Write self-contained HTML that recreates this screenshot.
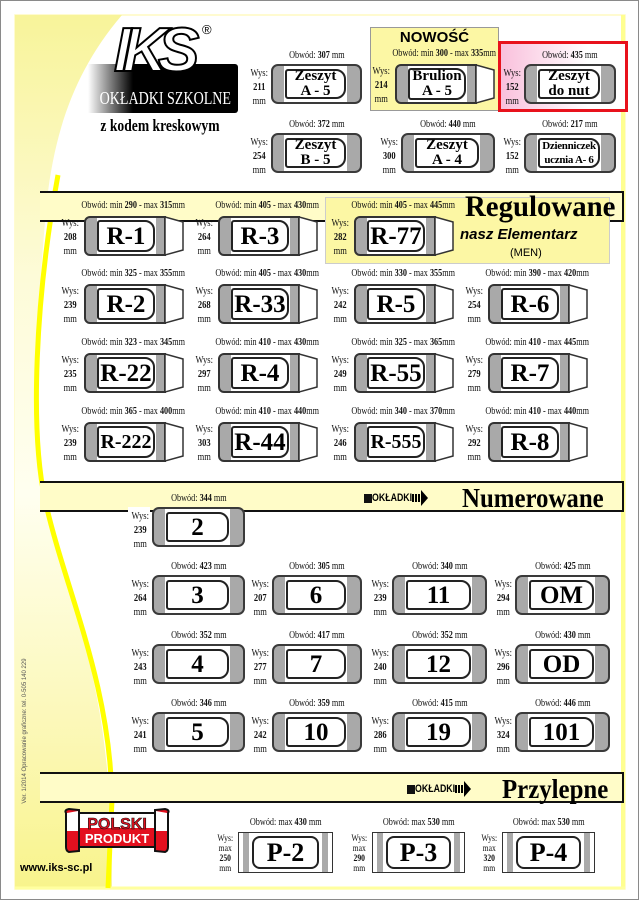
<!DOCTYPE html>
<html><head><meta charset="utf-8">
<style>
*{margin:0;padding:0;box-sizing:border-box}
body{width:640px;height:901px;position:relative;overflow:hidden;background:#fff;font-family:"Liberation Serif",serif}
.a{position:absolute}
.o{position:absolute;top:-16px;left:-40px;right:-40px;text-align:center;font:10px "Liberation Serif",serif;white-space:nowrap;color:#111}
.o span{display:inline-block;transform:scaleX(.82)}
.w{position:absolute;left:-24px;top:1px;width:20px;text-align:center;font:10px/14px "Liberation Serif",serif;color:#111}
.w span{display:inline-block;transform:scaleX(.85)}
.n{position:absolute;height:40px;border:2px solid #3a3a3a;border-radius:7px;background:linear-gradient(90deg,#a9a9a9 0 11px,#fff 11px calc(100% - 13px),#a9a9a9 calc(100% - 13px))}
.n>.l{left:12px;right:14px;top:3px;bottom:3px}
.l{position:absolute;border:2px solid #222;border-radius:3px 10px 10px 3px;background:#fff;display:flex;align-items:center;justify-content:center;text-align:center;font:bold 25px/1 "Liberation Serif",serif;color:#000;white-space:nowrap}
.l.t{font-size:15px;line-height:15px}
.r{position:absolute;width:99px;height:40px}
.rb{position:absolute;left:0;top:0;width:82px;height:40px;border:2px solid #333;border-radius:6px 0 0 6px;background:linear-gradient(90deg,#a9a9a9 0 11px,#fff 11px 70px,#a9a9a9 70px)}
.rb .l{left:11px;top:2px;width:58px;bottom:2px}
.r svg{position:absolute;left:81px;top:0}
.p{position:absolute;height:41px;border:1.5px solid #333;background:linear-gradient(90deg,#fff 0 4px,#aaa 4px 10px,#fff 10px calc(100% - 10px),#aaa calc(100% - 10px) calc(100% - 4px),#fff calc(100% - 4px))}
.p .l{left:13px;right:13px;top:3px;bottom:3px;border-radius:8px;font-size:26px}
.p .w{font-size:9px;line-height:10px;top:0}
.hb{position:absolute;left:40px;width:584px;height:31px;border-top:2px solid #111;border-bottom:2px solid #111;border-right:2px solid #111;background:#fffcc8}
.ht{position:absolute;font:bold 28px "Liberation Serif",serif;color:#000;white-space:nowrap}
.ok{position:absolute;font:bold 11px "Liberation Sans",sans-serif;white-space:nowrap;display:flex;align-items:center}
</style></head><body>

<svg class="a" style="left:0;top:0" width="640" height="901">
<defs><linearGradient id="yg" x1="0" y1="0" x2="0" y2="1">
<stop offset="0" stop-color="#f8f49a"/><stop offset=".3" stop-color="#fdfbd8"/><stop offset=".55" stop-color="#fffff0"/><stop offset=".85" stop-color="#fbf7b0"/><stop offset="1" stop-color="#f8f48c"/></linearGradient></defs>
<rect x="0.5" y="0.5" width="638" height="899" fill="#fff" stroke="#8a8a8a"/>
<rect x="15" y="15" width="610" height="874" fill="#fff" stroke="#fffac0" stroke-width="1.5"/>
<path d="M15 15 H122 C75 70 55 130 47 200 C30 380 35 480 60 560 C100 680 112 760 112 888 H15 Z" fill="url(#yg)"/>
<line x1="623" y1="15" x2="623" y2="889" stroke="#ffff90" stroke-width="4"/>
<line x1="15" y1="888" x2="625" y2="888" stroke="#ffffa0" stroke-width="3"/>
<path d="M58 175 C35 300 30 430 45 500 C65 590 110 680 112 800 L108 888" fill="none" stroke="#ffff00" stroke-width="5"/>
</svg>

<!-- logo -->
<div class="a" style="left:88px;top:64px;width:150px;height:49px;background:linear-gradient(90deg,#fff 0,#000 45px,#000);border-radius:0 3px 3px 0"></div>
<div class="a" style="left:114px;top:20px;font:italic bold 62px/1 'Liberation Sans',sans-serif;color:#fff;-webkit-text-stroke:2px #000;letter-spacing:-9px">IKS</div>
<div class="a" style="left:202px;top:22px;font:13px 'Liberation Sans',sans-serif">®</div>
<div class="a" style="left:82px;top:88px;width:160px;text-align:center;font:18px 'Liberation Serif',serif;color:#fff;transform:scaleX(.78);white-space:nowrap">OKŁADKI SZKOLNE</div>
<div class="a" style="left:80px;top:116px;width:160px;text-align:center;font:bold 17px 'Liberation Serif',serif;transform:scaleX(.8);white-space:nowrap">z kodem kreskowym</div>

<!-- top boxes -->
<div class="a" style="left:370px;top:27px;width:129px;height:84px;background:#fcf7a4;border:1px solid #999"></div>
<div class="a" style="left:370px;top:29px;width:129px;text-align:center;font:bold 15px 'Liberation Sans',sans-serif">NOWOŚĆ</div>
<div class="a" style="left:498px;top:41px;width:130px;height:71px;border:3px solid #e8121c;background:linear-gradient(90deg,#f9c0dc,#fff 70%)"></div>

<div class="n" style="left:271px;top:64px;width:91px"><div class="o"><span>Obwód: <b>307</b> mm</span></div><div class="w"><span>Wys:<br><b>211</b><br>mm</span></div><div class="l t">Zeszyt<br>A - 5</div></div>
<div class="r" style="left:395px;top:64px"><div class="o"><span>Obwód: min <b>300</b> - max <b>335</b>mm</span></div><div class="w"><span>Wys:<br><b>214</b><br>mm</span></div><div class="rb"><div class="l t">Brulion<br>A - 5</div></div><svg width="19" height="40"><polygon points="0,1 18,6 18,34 0,39" fill="#fff" stroke="#333" stroke-width="1.5"/></svg></div>
<div class="n" style="left:524px;top:64px;width:92px"><div class="o"><span>Obwód: <b>435</b> mm</span></div><div class="w"><span>Wys:<br><b>152</b><br>mm</span></div><div class="l t">Zeszyt<br>do nut</div></div>
<div class="n" style="left:271px;top:133px;width:91px"><div class="o"><span>Obwód: <b>372</b> mm</span></div><div class="w"><span>Wys:<br><b>254</b><br>mm</span></div><div class="l t">Zeszyt<br>B - 5</div></div>
<div class="n" style="left:401px;top:133px;width:94px"><div class="o"><span>Obwód: <b>440</b> mm</span></div><div class="w"><span>Wys:<br><b>300</b><br>mm</span></div><div class="l t">Zeszyt<br>A - 4</div></div>
<div class="n" style="left:524px;top:133px;width:92px"><div class="o"><span>Obwód: <b>217</b> mm</span></div><div class="w"><span>Wys:<br><b>152</b><br>mm</span></div><div class="l t" style="font-size:11px;line-height:14px;letter-spacing:-.3px">Dzienniczek<br>ucznia A- 6</div></div>

<!-- Regulowane -->
<div class="hb" style="top:191px"></div>
<div class="a" style="left:325px;top:197px;width:285px;height:67px;background:#fcf7a4;border:1px solid #ccc"></div>
<div class="ht" style="left:465px;top:190px;font-size:30px;transform:scaleX(.96);transform-origin:left">Regulowane</div>
<div class="a" style="left:460px;top:226px;font:italic bold 15px 'Liberation Sans',sans-serif;white-space:nowrap">nasz Elementarz</div>
<div class="a" style="left:510px;top:247px;font:11px 'Liberation Sans',sans-serif">(MEN)</div>

<div class="r" style="left:84px;top:216px"><div class="o"><span>Obwód: min <b>290</b> - max <b>315</b>mm</span></div><div class="w"><span>Wys:<br><b>208</b><br>mm</span></div><div class="rb"><div class="l">R-1</div></div><svg width="19" height="40"><polygon points="0,1 18,6 18,34 0,39" fill="#fff" stroke="#333" stroke-width="1.5"/></svg></div>
<div class="r" style="left:218px;top:216px"><div class="o"><span>Obwód: min <b>405</b> - max <b>430</b>mm</span></div><div class="w"><span>Wys:<br><b>264</b><br>mm</span></div><div class="rb"><div class="l">R-3</div></div><svg width="19" height="40"><polygon points="0,1 18,6 18,34 0,39" fill="#fff" stroke="#333" stroke-width="1.5"/></svg></div>
<div class="r" style="left:354px;top:216px"><div class="o"><span>Obwód: min <b>405</b> - max <b>445</b>mm</span></div><div class="w"><span>Wys:<br><b>282</b><br>mm</span></div><div class="rb"><div class="l">R-77</div></div><svg width="19" height="40"><polygon points="0,1 18,6 18,34 0,39" fill="#fff" stroke="#333" stroke-width="1.5"/></svg></div>

<div class="r" style="left:84px;top:284px"><div class="o"><span>Obwód: min <b>325</b> - max <b>355</b>mm</span></div><div class="w"><span>Wys:<br><b>239</b><br>mm</span></div><div class="rb"><div class="l">R-2</div></div><svg width="19" height="40"><polygon points="0,1 18,6 18,34 0,39" fill="#fff" stroke="#333" stroke-width="1.5"/></svg></div>
<div class="r" style="left:218px;top:284px"><div class="o"><span>Obwód: min <b>405</b> - max <b>430</b>mm</span></div><div class="w"><span>Wys:<br><b>268</b><br>mm</span></div><div class="rb"><div class="l">R-33</div></div><svg width="19" height="40"><polygon points="0,1 18,6 18,34 0,39" fill="#fff" stroke="#333" stroke-width="1.5"/></svg></div>
<div class="r" style="left:354px;top:284px"><div class="o"><span>Obwód: min <b>330</b> - max <b>355</b>mm</span></div><div class="w"><span>Wys:<br><b>242</b><br>mm</span></div><div class="rb"><div class="l">R-5</div></div><svg width="19" height="40"><polygon points="0,1 18,6 18,34 0,39" fill="#fff" stroke="#333" stroke-width="1.5"/></svg></div>
<div class="r" style="left:488px;top:284px"><div class="o"><span>Obwód: min <b>390</b> - max <b>420</b>mm</span></div><div class="w"><span>Wys:<br><b>254</b><br>mm</span></div><div class="rb"><div class="l">R-6</div></div><svg width="19" height="40"><polygon points="0,1 18,6 18,34 0,39" fill="#fff" stroke="#333" stroke-width="1.5"/></svg></div>

<div class="r" style="left:84px;top:353px"><div class="o"><span>Obwód: min <b>323</b> - max <b>345</b>mm</span></div><div class="w"><span>Wys:<br><b>235</b><br>mm</span></div><div class="rb"><div class="l">R-22</div></div><svg width="19" height="40"><polygon points="0,1 18,6 18,34 0,39" fill="#fff" stroke="#333" stroke-width="1.5"/></svg></div>
<div class="r" style="left:218px;top:353px"><div class="o"><span>Obwód: min <b>410</b> - max <b>430</b>mm</span></div><div class="w"><span>Wys:<br><b>297</b><br>mm</span></div><div class="rb"><div class="l">R-4</div></div><svg width="19" height="40"><polygon points="0,1 18,6 18,34 0,39" fill="#fff" stroke="#333" stroke-width="1.5"/></svg></div>
<div class="r" style="left:354px;top:353px"><div class="o"><span>Obwód: min <b>325</b> - max <b>365</b>mm</span></div><div class="w"><span>Wys:<br><b>249</b><br>mm</span></div><div class="rb"><div class="l">R-55</div></div><svg width="19" height="40"><polygon points="0,1 18,6 18,34 0,39" fill="#fff" stroke="#333" stroke-width="1.5"/></svg></div>
<div class="r" style="left:488px;top:353px"><div class="o"><span>Obwód: min <b>410</b> - max <b>445</b>mm</span></div><div class="w"><span>Wys:<br><b>279</b><br>mm</span></div><div class="rb"><div class="l">R-7</div></div><svg width="19" height="40"><polygon points="0,1 18,6 18,34 0,39" fill="#fff" stroke="#333" stroke-width="1.5"/></svg></div>

<div class="r" style="left:84px;top:422px"><div class="o"><span>Obwód: min <b>365</b> - max <b>400</b>mm</span></div><div class="w"><span>Wys:<br><b>239</b><br>mm</span></div><div class="rb"><div class="l" style="font-size:20px">R-222</div></div><svg width="19" height="40"><polygon points="0,1 18,6 18,34 0,39" fill="#fff" stroke="#333" stroke-width="1.5"/></svg></div>
<div class="r" style="left:218px;top:422px"><div class="o"><span>Obwód: min <b>410</b> - max <b>440</b>mm</span></div><div class="w"><span>Wys:<br><b>303</b><br>mm</span></div><div class="rb"><div class="l">R-44</div></div><svg width="19" height="40"><polygon points="0,1 18,6 18,34 0,39" fill="#fff" stroke="#333" stroke-width="1.5"/></svg></div>
<div class="r" style="left:354px;top:422px"><div class="o"><span>Obwód: min <b>340</b> - max <b>370</b>mm</span></div><div class="w"><span>Wys:<br><b>246</b><br>mm</span></div><div class="rb"><div class="l" style="font-size:20px">R-555</div></div><svg width="19" height="40"><polygon points="0,1 18,6 18,34 0,39" fill="#fff" stroke="#333" stroke-width="1.5"/></svg></div>
<div class="r" style="left:488px;top:422px"><div class="o"><span>Obwód: min <b>410</b> - max <b>440</b>mm</span></div><div class="w"><span>Wys:<br><b>292</b><br>mm</span></div><div class="rb"><div class="l">R-8</div></div><svg width="19" height="40"><polygon points="0,1 18,6 18,34 0,39" fill="#fff" stroke="#333" stroke-width="1.5"/></svg></div>

<!-- Numerowane -->
<div class="hb" style="top:481px"></div>
<div class="ok" style="left:364px;top:490px"><span style="display:inline-block;width:8px;height:9px;background:#111;margin-right:1px"></span><span style="display:inline-block;transform:scaleX(.8);margin:0 -6px">OKŁADKI</span><svg width="16" height="16" style="margin-left:1px"><rect x="0" y="4" width="2" height="8"/><rect x="3" y="4" width="2" height="8"/><rect x="6" y="4" width="2" height="8"/><polygon points="9,0 16,8 9,16"/></svg></div>
<div class="ht" style="left:462px;top:483px;font-size:27px;transform:scaleX(.92);transform-origin:left">Numerowane</div>
<div class="a" style="left:128px;top:507px;width:22px;height:40px;background:#fff"></div>

<div class="n" style="left:152px;top:507px;width:93px"><div class="o"><span>Obwód: <b>344</b> mm</span></div><div class="w"><span>Wys:<br><b>239</b><br>mm</span></div><div class="l">2</div></div>

<div class="n" style="left:152px;top:575px;width:93px"><div class="o"><span>Obwód: <b>423</b> mm</span></div><div class="w"><span>Wys:<br><b>264</b><br>mm</span></div><div class="l">3</div></div>
<div class="n" style="left:272px;top:575px;width:90px"><div class="o"><span>Obwód: <b>305</b> mm</span></div><div class="w"><span>Wys:<br><b>207</b><br>mm</span></div><div class="l">6</div></div>
<div class="n" style="left:392px;top:575px;width:95px"><div class="o"><span>Obwód: <b>340</b> mm</span></div><div class="w"><span>Wys:<br><b>239</b><br>mm</span></div><div class="l">11</div></div>
<div class="n" style="left:515px;top:575px;width:95px"><div class="o"><span>Obwód: <b>425</b> mm</span></div><div class="w"><span>Wys:<br><b>294</b><br>mm</span></div><div class="l">OM</div></div>

<div class="n" style="left:152px;top:644px;width:93px"><div class="o"><span>Obwód: <b>352</b> mm</span></div><div class="w"><span>Wys:<br><b>243</b><br>mm</span></div><div class="l">4</div></div>
<div class="n" style="left:272px;top:644px;width:90px"><div class="o"><span>Obwód: <b>417</b> mm</span></div><div class="w"><span>Wys:<br><b>277</b><br>mm</span></div><div class="l">7</div></div>
<div class="n" style="left:392px;top:644px;width:95px"><div class="o"><span>Obwód: <b>352</b> mm</span></div><div class="w"><span>Wys:<br><b>240</b><br>mm</span></div><div class="l">12</div></div>
<div class="n" style="left:515px;top:644px;width:95px"><div class="o"><span>Obwód: <b>430</b> mm</span></div><div class="w"><span>Wys:<br><b>296</b><br>mm</span></div><div class="l">OD</div></div>

<div class="n" style="left:152px;top:712px;width:93px"><div class="o"><span>Obwód: <b>346</b> mm</span></div><div class="w"><span>Wys:<br><b>241</b><br>mm</span></div><div class="l">5</div></div>
<div class="n" style="left:272px;top:712px;width:90px"><div class="o"><span>Obwód: <b>359</b> mm</span></div><div class="w"><span>Wys:<br><b>242</b><br>mm</span></div><div class="l">10</div></div>
<div class="n" style="left:392px;top:712px;width:95px"><div class="o"><span>Obwód: <b>415</b> mm</span></div><div class="w"><span>Wys:<br><b>286</b><br>mm</span></div><div class="l">19</div></div>
<div class="n" style="left:515px;top:712px;width:95px"><div class="o"><span>Obwód: <b>446</b> mm</span></div><div class="w"><span>Wys:<br><b>324</b><br>mm</span></div><div class="l">101</div></div>

<!-- Przylepne -->
<div class="hb" style="top:772px"></div>
<div class="ok" style="left:407px;top:781px"><span style="display:inline-block;width:8px;height:9px;background:#111;margin-right:1px"></span><span style="display:inline-block;transform:scaleX(.8);margin:0 -6px">OKŁADKI</span><svg width="16" height="16" style="margin-left:1px"><rect x="0" y="4" width="2" height="8"/><rect x="3" y="4" width="2" height="8"/><rect x="6" y="4" width="2" height="8"/><polygon points="9,0 16,8 9,16"/></svg></div>
<div class="ht" style="left:502px;top:774px;font-size:27px;transform:scaleX(.92);transform-origin:left">Przylepne</div>

<div class="p" style="left:238px;top:832px;width:95px"><div class="o"><span>Obwód: max <b>430</b> mm</span></div><div class="w"><span>Wys:<br>max<br><b>250</b><br>mm</span></div><div class="l">P-2</div></div>
<div class="p" style="left:372px;top:832px;width:93px"><div class="o"><span>Obwód: max <b>530</b> mm</span></div><div class="w"><span>Wys:<br>max<br><b>290</b><br>mm</span></div><div class="l">P-3</div></div>
<div class="p" style="left:502px;top:832px;width:93px"><div class="o"><span>Obwód: max <b>530</b> mm</span></div><div class="w"><span>Wys:<br>max<br><b>320</b><br>mm</span></div><div class="l">P-4</div></div>

<!-- side text -->
<div class="a" style="left:-60px;top:728px;width:170px;text-align:center;font:6px 'Liberation Sans',sans-serif;color:#555;transform:rotate(-90deg);white-space:nowrap">Ver. 1/2014 Opracowanie graficzne: tel. 0-505 140 229</div>

<!-- Polski produkt -->
<svg class="a" style="left:63px;top:807px" width="108" height="47">
<rect x="14" y="6" width="80" height="34" fill="#e3101f" stroke="#111" stroke-width="2"/>
<rect x="15" y="7" width="78" height="14" fill="#fff"/>
<path d="M3 6 Q1 3 6 2 L16 3 L16 44 L6 45 Q3 44 3 40 Z" fill="#e3101f" stroke="#111" stroke-width="2"/>
<path d="M4 6 L15 4 L15 24 L4 24 Z" fill="#fff"/>
<path d="M105 6 Q107 3 102 2 L92 3 L92 44 L102 45 Q105 44 105 40 Z" fill="#e3101f" stroke="#111" stroke-width="2"/>
<path d="M104 6 L93 4 L93 24 L104 24 Z" fill="#fff"/>
<text x="54" y="22" text-anchor="middle" font-family="Liberation Sans" font-weight="bold" font-size="16" fill="#e3101f" stroke="#111" stroke-width=".6">POLSKI</text>
<text x="54" y="36" text-anchor="middle" font-family="Liberation Sans" font-weight="bold" font-size="13" fill="#fff">PRODUKT</text>
</svg>
<div class="a" style="left:20px;top:862px;font:bold 11px 'Liberation Sans',sans-serif">www.iks-sc.pl</div>

</body></html>
